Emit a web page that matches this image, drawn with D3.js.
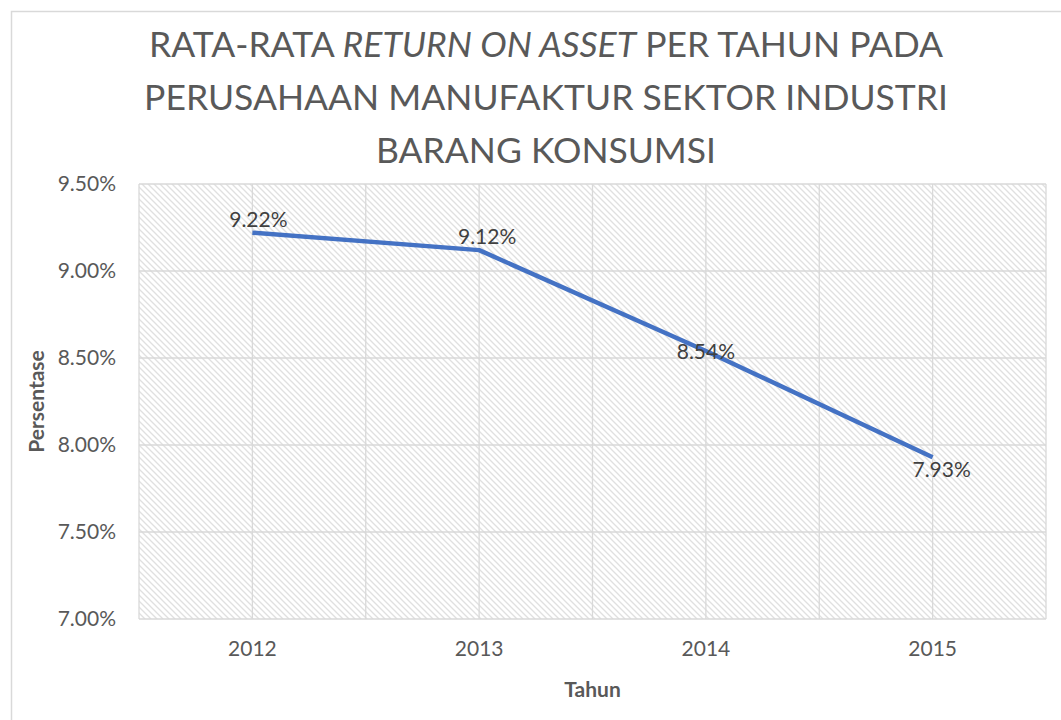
<!DOCTYPE html>
<html>
<head>
<meta charset="utf-8">
<script src="https://cdn.jsdelivr.net/npm/d3@7"></script>
<style>
  body { margin: 0; background: #fff; }
  svg text { font-family: Lato, "Open Sans", sans-serif; }
</style>
</head>
<body>
<div id="chart"></div>
<script>
// Data
const years = ["2012", "2013", "2014", "2015"];
const roa = [9.22, 9.12, 8.54, 7.93];
const yTicks = [7.0, 7.5, 8.0, 8.5, 9.0, 9.5];

const width = 1061;
const height = 720;
const plot = { left: 139, right: 1046, top: 184, bottom: 619 };

const svg = d3.select("#chart")
    .append("svg")
    .attr("width", width)
    .attr("height", height);

// hatch pattern for plot background
const defs = svg.append("defs");
const pat = defs.append("pattern")
    .attr("id", "hatch")
    .attr("patternUnits", "userSpaceOnUse")
    .attr("width", 6)
    .attr("height", 6);
pat.append("rect").attr("width", 6).attr("height", 6).attr("fill", "#fff");
pat.append("path")
    .attr("d", "M-1,-1 L7,7 M-1,5 L1,7 M5,-1 L7,1")
    .attr("stroke", "#e0e0e0")
    .attr("stroke-width", 1.3);

// chart border
svg.append("rect")
    .attr("x", 11.5).attr("y", 11.5)
    .attr("width", width).attr("height", height)
    .attr("fill", "none")
    .attr("stroke", "#d9d9d9")
    .attr("stroke-width", 1.5);

// Scales
const x = d3.scaleBand()
    .domain(years)
    .range([plot.left, plot.right]);

const y = d3.scaleLinear()
    .domain([7.0, 9.5])
    .range([plot.bottom, plot.top]);

// plot area
svg.append("rect")
    .attr("x", plot.left).attr("y", plot.top)
    .attr("width", plot.right - plot.left)
    .attr("height", plot.bottom - plot.top)
    .attr("fill", "url(#hatch)");

// gridlines
const grid = svg.append("g").attr("stroke", "#d9d9d9").attr("stroke-width", 1.3);
yTicks.forEach(t => {
    grid.append("line")
        .attr("x1", plot.left).attr("x2", plot.right)
        .attr("y1", y(t)).attr("y2", y(t));
});
const vx = [];
years.forEach(yr => { vx.push(x(yr)); vx.push(x(yr) + x.bandwidth() / 2); });
vx.push(plot.right);
vx.forEach(v => {
    grid.append("line")
        .attr("x1", v).attr("x2", v)
        .attr("y1", plot.top).attr("y2", plot.bottom);
});

// y axis labels
const yAxis = svg.append("g")
    .attr("transform", `translate(${plot.left - 20},0)`)
    .call(d3.axisLeft(y).tickValues(yTicks).tickSize(0).tickFormat(d => d.toFixed(2) + "%"));
yAxis.select(".domain").remove();
yAxis.selectAll("text")
    .attr("font-size", 21)
    .attr("fill", "#595959")
    .attr("font-family", "Lato, sans-serif");

// x axis labels
const xAxis = svg.append("g")
    .attr("transform", `translate(0,${plot.bottom + 19})`)
    .call(d3.axisBottom(x).tickSize(0));
xAxis.select(".domain").remove();
xAxis.selectAll("text")
    .attr("font-size", 21)
    .attr("fill", "#595959")
    .attr("font-family", "Lato, sans-serif");

// line
const cx = (d, i) => x(years[i]) + x.bandwidth() / 2;
const line = d3.line()
    .x(cx)
    .y(d => y(d));

svg.append("path")
    .datum(roa)
    .attr("d", line)
    .attr("fill", "none")
    .attr("stroke", "#4472c4")
    .attr("stroke-width", 4.5)
    .attr("stroke-linejoin", "round");

// data labels
const placement = ["above", "above", "center", "below"];
const dxs = [6, 8, 0, 9];
svg.selectAll(".dlabel")
    .data(roa)
    .enter()
    .append("text")
    .attr("class", "dlabel")
    .attr("x", (d, i) => cx(d, i) + dxs[i])
    .attr("y", (d, i) => {
        const p = placement[i];
        if (p === "above") return y(d) - 6;
        if (p === "below") return y(d) + 20;
        return y(d) + 8;
    })
    .attr("text-anchor", "middle")
    .attr("font-size", 21)
    .attr("fill", "#404040")
    .text(d => d.toFixed(2) + "%");

// title
const title = svg.append("text")
    .attr("text-anchor", "middle")
    .attr("font-size", 35.5)
    .attr("fill", "#595959");
title.append("tspan").attr("x", 546).attr("y", 57).text("RATA-RATA ");
title.append("tspan").attr("font-style", "italic").text("RETURN ON ASSET");
title.append("tspan").text(" PER TAHUN PADA");
svg.append("text")
    .attr("x", 546).attr("y", 110)
    .attr("text-anchor", "middle")
    .attr("font-size", 35.5)
    .attr("fill", "#595959")
    .text("PERUSAHAAN MANUFAKTUR SEKTOR INDUSTRI");
svg.append("text")
    .attr("x", 546).attr("y", 163)
    .attr("text-anchor", "middle")
    .attr("font-size", 35.5)
    .attr("fill", "#595959")
    .text("BARANG KONSUMSI");

// axis titles
svg.append("text")
    .attr("x", (plot.left + plot.right) / 2)
    .attr("y", 697)
    .attr("text-anchor", "middle")
    .attr("font-size", 21)
    .attr("font-weight", "bold")
    .attr("fill", "#595959")
    .text("Tahun");

svg.append("text")
    .attr("transform", `translate(44,${(plot.top + plot.bottom) / 2}) rotate(-90)`)
    .attr("text-anchor", "middle")
    .attr("font-size", 21)
    .attr("font-weight", "bold")
    .attr("fill", "#595959")
    .text("Persentase");
</script>
</body>
</html>
